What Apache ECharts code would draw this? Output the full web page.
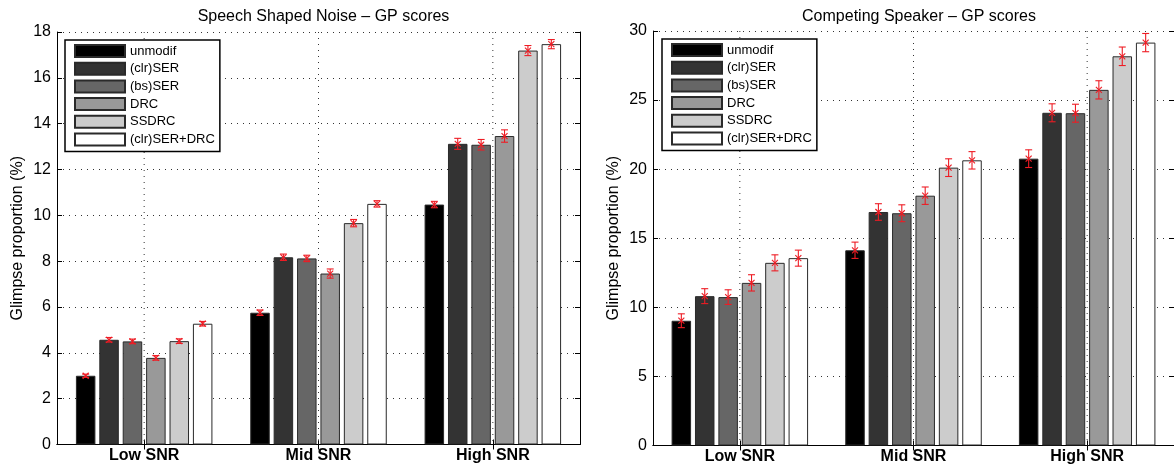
<!DOCTYPE html>
<html>
<head>
<meta charset="utf-8">
<script src="https://cdn.jsdelivr.net/npm/echarts@6/dist/echarts.min.js"></script>
<style>
html,body{margin:0;padding:0;background:#fff;}
#chart{width:1174px;height:466px;}
</style>
</head>
<body>
<div id="chart"></div>
<script>
// ---------------- data ----------------
const categories = ['Low SNR', 'Mid SNR', 'High SNR'];
const methods = ['unmodif', '(clr)SER', '(bs)SER', 'DRC', 'SSDRC', '(clr)SER+DRC'];

// Speech Shaped Noise: mean GP per method (Low, Mid, High)
const ssnMeans = [
  [3.00, 5.75, 10.47],
  [4.57, 8.17, 13.12],
  [4.50, 8.12, 13.08],
  [3.78, 7.46, 13.46],
  [4.51, 9.66, 17.19],
  [5.27, 10.50, 17.47]
];
const ssnErrors = [
  [0.07, 0.12, 0.14],
  [0.10, 0.14, 0.24],
  [0.10, 0.14, 0.23],
  [0.10, 0.20, 0.27],
  [0.10, 0.16, 0.22],
  [0.10, 0.14, 0.20]
];

// Competing Speaker: mean GP per method (Low, Mid, High)
const csMeans = [
  [9.03, 14.13, 20.76],
  [10.81, 16.90, 24.08],
  [10.74, 16.81, 24.05],
  [11.77, 18.08, 25.74],
  [13.22, 20.11, 28.17],
  [13.56, 20.64, 29.16]
];
const csErrors = [
  [0.50, 0.59, 0.64],
  [0.54, 0.60, 0.65],
  [0.53, 0.61, 0.65],
  [0.59, 0.63, 0.66],
  [0.58, 0.64, 0.67],
  [0.58, 0.63, 0.66]
];

const titles = ['Speech Shaped Noise \u2013 GP scores', 'Competing Speaker \u2013 GP scores'];
const yName = 'Glimpse proportion (%)';

// ---------------- style ----------------
const palette = ['#000000', '#333333', '#666666', '#999999', '#cccccc', '#ffffff'];
const FONT = 'Liberation Sans, Arial, Helvetica, sans-serif';
const BAR_W = 19.5;
const GAP_RATIO = 0.2;
const STEP = BAR_W * (1 + GAP_RATIO);
const ERR_COLOR = '#ee1c24';

const chart = echarts.init(document.getElementById('chart'), null, {renderer: 'canvas'});

const grids = [
  {left: 57, top: 32, width: 523, height: 412.5},
  {left: 653, top: 31, width: 522, height: 414.5}
];
const yMax = [18, 30];
const yInt = [2, 5];

const xAxes = [], yAxes = [], series = [], titleArr = [];

grids.forEach((g, gi) => {
  // bottom x axis
  xAxes.push({
    type: 'category', gridIndex: gi, data: categories, position: 'bottom',
    axisLine: {show: true, lineStyle: {color: '#000', width: 1}},
    axisTick: {show: true, inside: true, alignWithLabel: true, length: 5, lineStyle: {color: '#000'}},
    axisLabel: {color: '#000', fontFamily: FONT, fontSize: 16, fontWeight: 'bold', margin: 3},
    splitLine: {show: false}
  });
  // top x axis (frame)
  xAxes.push({
    type: 'category', gridIndex: gi, data: categories, position: 'top',
    axisLine: {show: true, lineStyle: {color: '#000', width: 1}},
    axisTick: {show: true, inside: true, alignWithLabel: true, length: 5, lineStyle: {color: '#000'}},
    axisLabel: {show: false}, splitLine: {show: false}
  });
  // left y axis
  yAxes.push({
    type: 'value', gridIndex: gi, min: 0, max: yMax[gi], interval: yInt[gi], position: 'left',
    name: yName, nameLocation: 'middle', nameGap: 31,
    nameTextStyle: {color: '#000', fontFamily: FONT, fontSize: 16},
    axisLine: {show: true, lineStyle: {color: '#000', width: 1}},
    axisTick: {show: true, inside: true, length: 5, lineStyle: {color: '#000'}},
    axisLabel: {color: '#000', fontFamily: FONT, fontSize: 16, margin: 6},
    splitLine: {show: true, lineStyle: {color: '#333', width: 1, type: [1, 5]}}
  });
  // right y axis (frame)
  yAxes.push({
    type: 'value', gridIndex: gi, min: 0, max: yMax[gi], interval: yInt[gi], position: 'right',
    axisLine: {show: true, lineStyle: {color: '#000', width: 1}},
    axisTick: {show: true, inside: true, length: 5, lineStyle: {color: '#000'}},
    axisLabel: {show: false}, splitLine: {show: false}
  });

  const cx = g.left + g.width / 2;
  titleArr.push({
    text: titles[gi], left: cx, top: 4, textAlign: 'center',
    textStyle: {color: '#000', fontFamily: FONT, fontSize: 16, fontWeight: 'normal'}
  });

  const xi = gi * 2, yi = gi * 2;
  const means = gi === 0 ? ssnMeans : csMeans;
  const errs = gi === 0 ? ssnErrors : csErrors;

  // vertical dotted grid lines at category centres
  series.push({
    type: 'custom', xAxisIndex: xi, yAxisIndex: yi, z: 1, silent: true,
    data: categories.map((c, i) => [i, 0]),
    encode: {x: 0, y: 1},
    renderItem: function (params, api) {
      const p = api.coord([api.value(0), 0]);
      const cs = params.coordSys;
      return {
        type: 'line',
        shape: {x1: p[0], y1: cs.y, x2: p[0], y2: cs.y + cs.height},
        style: {stroke: '#333', lineWidth: 1, lineDash: [1, 5]}
      };
    }
  });

  methods.forEach((m, mi) => {
    series.push({
      name: m, type: 'bar', xAxisIndex: xi, yAxisIndex: yi, z: 2,
      data: means[mi],
      barWidth: BAR_W, barGap: (GAP_RATIO * 100) + '%',
      itemStyle: {color: palette[mi], borderColor: '#2a2a2a', borderWidth: 1},
      emphasis: {disabled: true}
    });
  });

  // error bars
  const errData = [];
  methods.forEach((m, mi) => {
    categories.forEach((c, ci) => {
      errData.push([ci, means[mi][ci], errs[mi][ci], mi]);
    });
  });
  series.push({
    type: 'custom', xAxisIndex: xi, yAxisIndex: yi, z: 5, silent: true,
    data: errData,
    encode: {x: 0, y: 1},
    renderItem: function (params, api) {
      const c = api.value(0), v = api.value(1), e = api.value(2), s = api.value(3);
      const p = api.coord([c, v]);
      const x = p[0] + (s - 2.5) * STEP;
      const y = p[1];
      const yt = api.coord([c, v + e])[1];
      const yb = api.coord([c, v - e])[1];
      const cw = 3.5, mk = 3;
      const st = {stroke: ERR_COLOR, lineWidth: 1.1};
      return {
        type: 'group',
        children: [
          {type: 'line', shape: {x1: x, y1: yt, x2: x, y2: yb}, style: st},
          {type: 'line', shape: {x1: x - cw, y1: yt, x2: x + cw, y2: yt}, style: st},
          {type: 'line', shape: {x1: x - cw, y1: yb, x2: x + cw, y2: yb}, style: st},
          {type: 'line', shape: {x1: x - mk, y1: y - mk, x2: x + mk, y2: y + mk}, style: st},
          {type: 'line', shape: {x1: x - mk, y1: y + mk, x2: x + mk, y2: y - mk}, style: st}
        ]
      };
    }
  });
});

const legendCommon = {
  orient: 'vertical', icon: 'rect', itemWidth: 50, itemHeight: 12, itemGap: 3.7,
  padding: [4, 5, 5, 9], borderColor: '#000', borderWidth: 1.5, backgroundColor: '#fff',
  selectedMode: false, data: methods,
  textStyle: {color: '#000', fontFamily: FONT, fontSize: 13}
};

chart.setOption({
  animation: false,
  backgroundColor: '#fff',
  title: titleArr,
  grid: grids,
  legend: [
    Object.assign({left: 65, top: 40}, legendCommon),
    Object.assign({left: 662, top: 39}, legendCommon)
  ],
  xAxis: xAxes,
  yAxis: yAxes,
  series: series
});
</script>
</body>
</html>
